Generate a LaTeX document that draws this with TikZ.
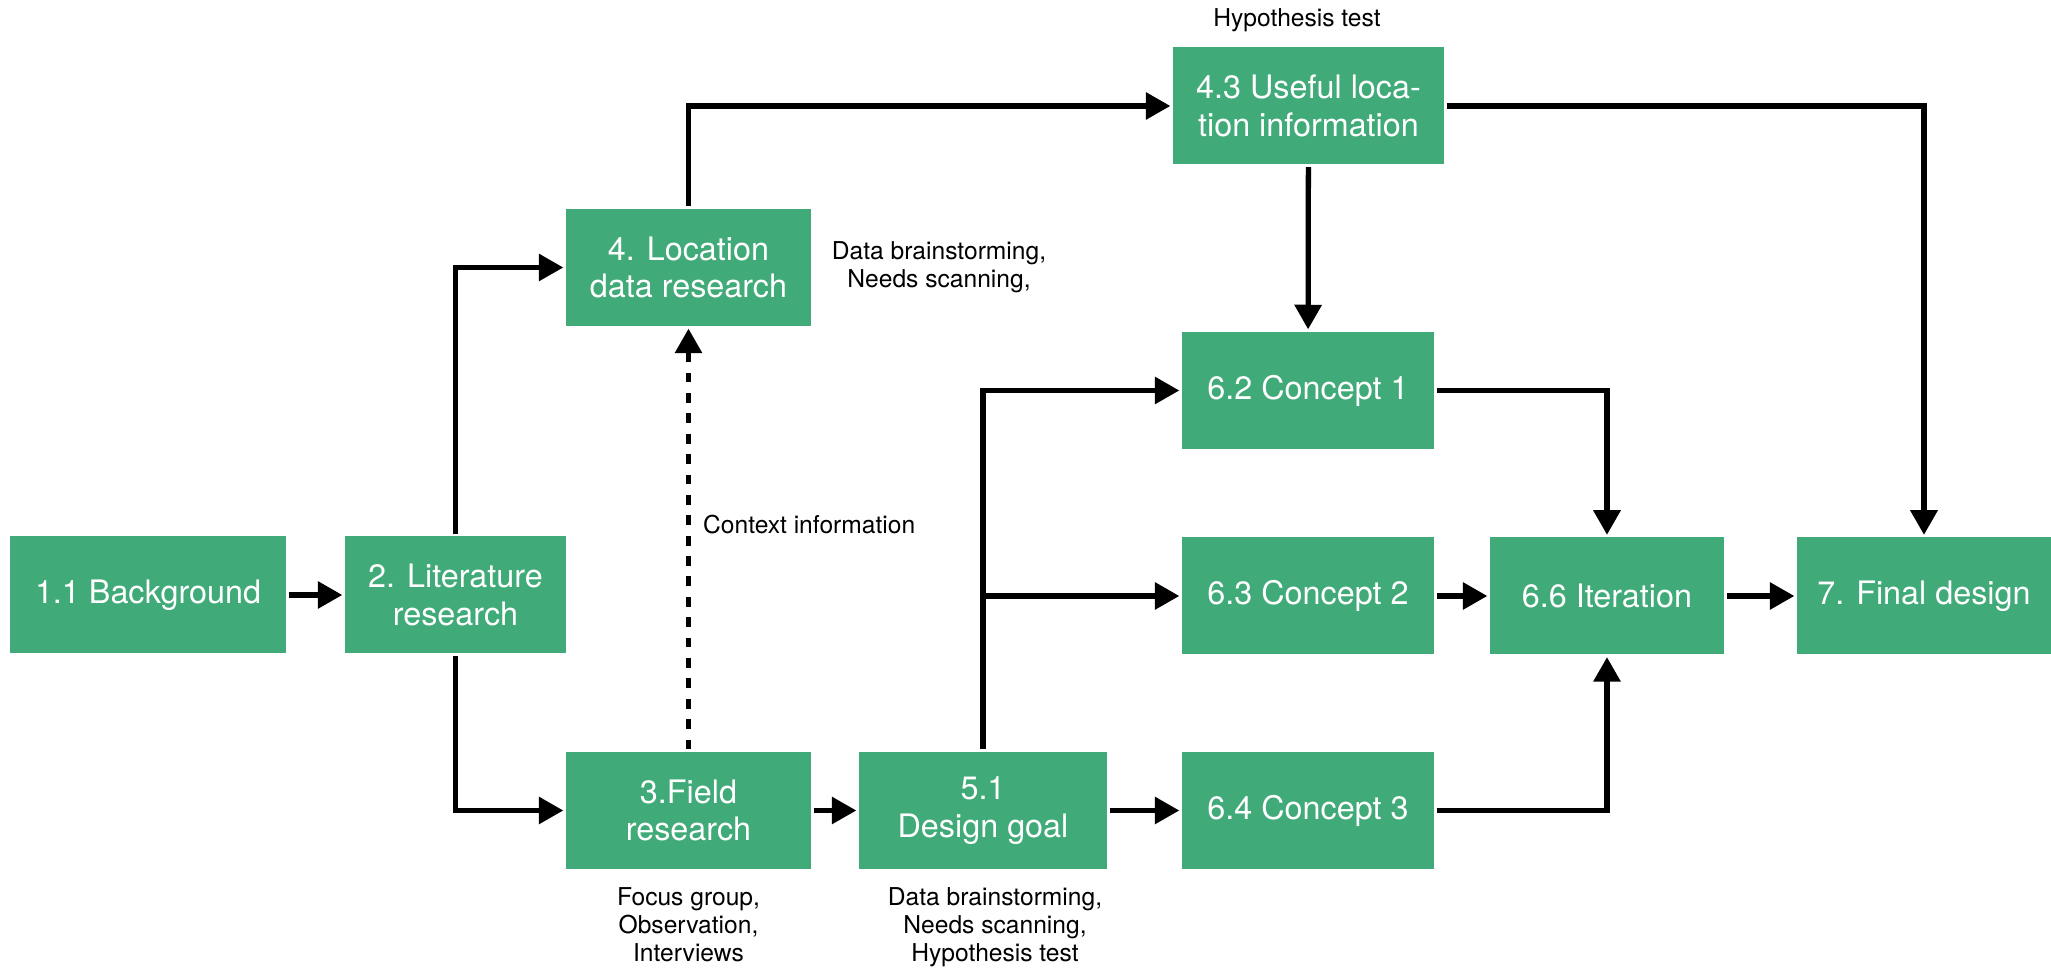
\documentclass[tikz,border=0pt]{standalone}
\usepackage{fontspec}
\setmainfont{TeX Gyre Heros}
\usepackage{tikz}
\usetikzlibrary{arrows.meta}
\usepackage{xcolor}
\definecolor{stepgreen}{RGB}{64,170,121}

\begin{document}
\begin{tikzpicture}[>={Triangle[length=7pt,width=7.5pt]},line width=1.5pt,
  box/.style={fill=stepgreen,text=white,minimum height=1.17cm,inner sep=2pt,align=center,
    font=\fontsize{9.2}{10.6}\selectfont},
  note/.style={align=center,font=\fontsize{7}{8}\selectfont,inner sep=1pt}]
\useasboundingbox (0,0) rectangle (20.51,9.70);
% boxes
\node[box,minimum width=2.76cm] (bg) at (1.48,3.75) {1.1 Background};
\node[box,minimum width=2.21cm] (lit) at (4.555,3.75) {2. Literature\\research};
\node[box,minimum width=2.45cm] (loc) at (6.885,7.025) {4. Location\\data research};
\node[box,minimum width=2.71cm] (useful) at (13.085,8.64) {4.3 Useful loca-\\tion information};
\node[box,minimum width=2.45cm] (field) at (6.885,1.595) {3.Field\\research};
\node[box,minimum width=2.48cm] (goal) at (9.83,1.595) {5.1\\Design goal};
\node[box,minimum width=2.52cm] (c1) at (13.08,5.795) {6.2 Concept 1};
\node[box,minimum width=2.52cm] (c2) at (13.08,3.74) {6.3 Concept 2};
\node[box,minimum width=2.52cm] (c3) at (13.08,1.595) {6.4 Concept 3};
\node[box,minimum width=2.34cm] (iter) at (16.07,3.74) {6.6 Iteration};
\node[box,minimum width=2.54cm] (final) at (19.24,3.74) {7. Final design};
% notes
\node[note] (hyp) at (12.97,9.50) {Hypothesis test};
\node[note] (locnote) at (9.39,7.025) {Data brainstorming,\\Needs scanning,};
\node[note,anchor=west] (ctx) at (6.97,4.45) {Context information};
\node[note,below=0.1cm] (fieldnote) at (field.south) {Focus group,\\Observation,\\Interviews};
\node[note,below=0.1cm,xshift=0.12cm] (goalnote) at (goal.south) {Data brainstorming,\\Needs scanning,\\Hypothesis test};
% connectors
\draw[->] (bg) -- (lit);
\draw[->] (lit.north) |- (loc);
\draw[->] (lit.south) |- (field);
\draw[->,dash pattern=on 2.8pt off 3pt] (field) -- (loc);
\draw[->] (loc.north) |- (useful);
\draw[->] (useful) -| (final);
\draw[->] (useful) -- (c1);
\draw[->] (field) -- (goal);
\draw[->] (goal) -- (c3);
\draw[->] (goal.north) |- (c1);
\draw[->] (goal.north |- c2) -- (c2);
\draw[->] (c1) -| (iter);
\draw[->] (c3) -| (iter);
\draw[->] (c2) -- (iter);
\draw[->] (iter) -- (final);
\end{tikzpicture}
\end{document}
